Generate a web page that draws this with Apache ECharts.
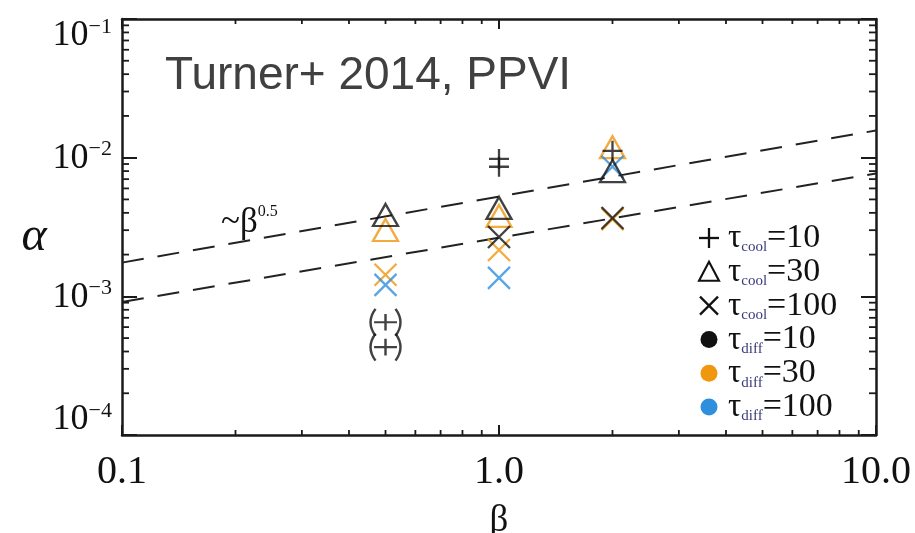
<!DOCTYPE html>
<html><head><meta charset="utf-8">
<script src="https://cdn.jsdelivr.net/npm/echarts@6/dist/echarts.min.js"></script>
<style>html,body{margin:0;padding:0;background:#fff}#c{width:915px;height:533px}</style>
</head><body><div id="c"></div>
<script>
// ---- data ----
const xTickLabels = ['0.1', '1.0', '10.0'];
const yTickExponents = ['\u22124', '\u22123', '\u22122', '\u22121'];
const xMinorTicks = [0.2,0.3,0.4,0.5,0.6,0.7,0.8,0.9,2,3,4,5,6,7,8,9];
const yMinorTicks = [2e-4,3e-4,4e-4,5e-4,6e-4,7e-4,8e-4,9e-4,2e-3,3e-3,4e-3,5e-3,6e-3,7e-3,8e-3,9e-3,2e-2,3e-2,4e-2,5e-2,6e-2,7e-2,8e-2,9e-2];

// tau_cool=10 (+)
const plusBlack = [[1, 9.8e-3], [1, 8.6e-3], [2, 1.12e-2]];
const plusBlackParen = [[0.5, 6.5e-4], [0.5, 4.3e-4]];
// tau_cool=30 (triangle)
const triBlack = [[0.5, 3.86e-3], [1, 4.34e-3], [2, 8.0e-3]];
const triOrange = [[0.5, 3.01e-3], [1, 3.8e-3], [2, 1.19e-2]];
// tau_cool=100 (x)
const crossBlack = [[1, 2.68e-3], [2, 3.67e-3]];
const crossOrange = [[0.5, 1.43e-3], [1, 2.16e-3], [2, 3.6e-3]];
const crossBlue = [[0.5, 1.21e-3], [1, 1.36e-3], [2, 8.6e-3]];
// ~beta^0.5 guide lines
const fitUpper = [[0.1, 1.75e-3], [10, 1.57e-2]];
const fitLower = [[0.1, 9.1e-4], [10, 7.7e-3]];

const legendItems = [
  {shape: 'plus', color: 'black', sub: 'cool', val: '10'},
  {shape: 'triangle', color: 'black', sub: 'cool', val: '30'},
  {shape: 'cross', color: 'black', sub: 'cool', val: '100'},
  {shape: 'circle', color: 'black', sub: 'diff', val: '10'},
  {shape: 'circle', color: 'orange', sub: 'diff', val: '30'},
  {shape: 'circle', color: 'blue', sub: 'diff', val: '100'}
];

// ---- styles ----
const COL = {black: '#111111', orange: '#F0960F', blue: '#2F8FDD'};
const SERIF = '"Liberation Serif","DejaVu Serif",serif';
const SANS = '"Liberation Sans",Arial,sans-serif';
const SYM = {
  plus: 'path://M0,-10 L0,10 M-10,0 L10,0',
  plusParen: 'path://M-7,-13 Q-14,0 -7,13 M7,-13 Q14,0 7,13 M0,-8 L0,8 M-8,0 L8,0',
  triangle: 'path://M0,-10 L11,10 L-11,10 Z',
  cross: 'path://M-10,-10 L10,10 M-10,10 L10,-10'
};

function scatter(data, symbol, size, color) {
  return {
    type: 'scatter', data: data, symbol: symbol, symbolSize: size,
    itemStyle: {color: 'none', borderColor: color, borderWidth: 2.3},
    emphasis: {disabled: true}, silent: true, z: 5
  };
}

const chart = echarts.init(document.getElementById('c'), null, {renderer: 'canvas'});

const axisLine = {show: true, lineStyle: {color: '#1a1a1a', width: 2.5}};
function xAxisDef(pos, showLabel) {
  return {
    type: 'log', logBase: 10, min: 0.1, max: 10, position: pos,
    axisLine: axisLine,
    axisTick: {show: true, inside: true, length: 10, lineStyle: {color: '#1a1a1a', width: 2}},
    splitLine: {show: false}, minorTick: {show: false},
    axisLabel: {
      show: showLabel, margin: 17, color: '#111', fontFamily: SERIF, fontSize: 40,
      formatter: function (v) { const i = Math.round(Math.log10(v)) + 1; return xTickLabels[i]; }
    },
    name: showLabel ? '\u03b2' : '', nameLocation: 'middle', nameGap: 68,
    nameTextStyle: {fontFamily: SERIF, fontSize: 37, color: '#111'}
  };
}
function yAxisDef(pos, showLabel) {
  return {
    type: 'log', logBase: 10, min: 1e-4, max: 1e-1, position: pos,
    axisLine: axisLine,
    axisTick: {show: true, inside: true, length: 15, lineStyle: {color: '#1a1a1a', width: 2}},
    splitLine: {show: false}, minorTick: {show: false},
    axisLabel: {
      show: showLabel, margin: 10, color: '#111', fontFamily: SERIF,
      formatter: function (v) {
        const i = Math.round(Math.log10(v)) + 4;
        const core = '{b|10}{s|' + yTickExponents[i] + '}';
        if (i === yTickExponents.length - 1) return '{g| }\n' + core;
        if (i === 0) return core + '\n{g| }';
        return core;
      },
      rich: {
        b: {fontFamily: SERIF, fontSize: 36, color: '#111', verticalAlign: 'bottom', lineHeight: 38},
        s: {fontFamily: SERIF, fontSize: 22, color: '#111', verticalAlign: 'top', lineHeight: 22},
        g: {fontSize: 10, lineHeight: 32}
      }
    },
    name: showLabel ? '\n\u03b1' : '', nameLocation: 'middle', nameGap: 62, nameRotate: 0,
    nameTextStyle: {fontFamily: SERIF, fontSize: 48, fontStyle: 'italic', color: '#111', lineHeight: 20}
  };
}

function minorX(params, api) {
  const v = api.value(0);
  const b = api.coord([v, 1e-4]);
  const t = api.coord([v, 1e-1]);
  const st = {stroke: '#1a1a1a', lineWidth: 1.8};
  return {type: 'group', children: [
    {type: 'line', shape: {x1: b[0], y1: b[1], x2: b[0], y2: b[1] - 5}, style: st},
    {type: 'line', shape: {x1: t[0], y1: t[1], x2: t[0], y2: t[1] + 5}, style: st}
  ]};
}
function minorY(params, api) {
  const v = api.value(1);
  const l = api.coord([0.1, v]);
  const r = api.coord([10, v]);
  const st = {stroke: '#1a1a1a', lineWidth: 1.8};
  return {type: 'group', children: [
    {type: 'line', shape: {x1: l[0], y1: l[1], x2: l[0] + 7, y2: l[1]}, style: st},
    {type: 'line', shape: {x1: r[0], y1: r[1], x2: r[0] - 7, y2: r[1]}, style: st}
  ]};
}

// legend graphics
const legendGraphics = [];
const L0 = 238, LSTEP = 33.8, LX = 709;
function gline(x1, y1, x2, y2, c) {
  return {type: 'line', shape: {x1: x1, y1: y1, x2: x2, y2: y2}, style: {stroke: c, lineWidth: 2.3}};
}
legendItems.forEach(function (it, i) {
  const cy = L0 + i * LSTEP;
  const c = COL[it.color];
  if (it.shape === 'plus') {
    legendGraphics.push(gline(LX, cy - 10, LX, cy + 10, c));
    legendGraphics.push(gline(LX - 10, cy, LX + 10, cy, c));
  } else if (it.shape === 'triangle') {
    legendGraphics.push({type: 'polygon', shape: {points: [[LX, cy - 10], [LX + 10, cy + 9], [LX - 10, cy + 9]]}, style: {stroke: c, lineWidth: 2.1, fill: null}});
  } else if (it.shape === 'cross') {
    legendGraphics.push(gline(LX - 9, cy - 9, LX + 9, cy + 9, c));
    legendGraphics.push(gline(LX - 9, cy + 9, LX + 9, cy - 9, c));
  } else {
    legendGraphics.push({type: 'circle', shape: {cx: LX, cy: cy, r: 8.5}, style: {fill: c}});
  }
  legendGraphics.push({
    type: 'text', x: 728, y: cy - 20,
    style: {
      text: '{t|\u03c4}{s|' + it.sub + '}{v|=' + it.val + '}',
      rich: {
        t: {fontFamily: SERIF, fontSize: 33, fill: '#111', verticalAlign: 'bottom', lineHeight: 37},
        s: {fontFamily: SERIF, fontSize: 15, fill: '#3a3a7a', verticalAlign: 'bottom', lineHeight: 13},
        v: {fontFamily: SERIF, fontSize: 34, fill: '#111', verticalAlign: 'bottom', lineHeight: 37}
      }
    }
  });
});

const option = {
  animation: false,
  backgroundColor: '#ffffff',
  grid: {left: 122, right: 39, top: 19, bottom: 98, containLabel: false, outerBoundsMode: 'none'},
  xAxis: [xAxisDef('bottom', true), xAxisDef('top', false)],
  yAxis: [yAxisDef('left', true), yAxisDef('right', false)],
  series: [
    {type: 'custom', renderItem: minorX, data: xMinorTicks.map(function (v) { return [v, 1e-4]; }), silent: true, clip: false, z: 3},
    {type: 'custom', renderItem: minorY, data: yMinorTicks.map(function (v) { return [0.1, v]; }), silent: true, clip: false, z: 3},
    {type: 'line', data: fitUpper, symbol: 'none', silent: true, lineStyle: {color: '#222', width: 2, type: [22, 14]}, z: 2},
    {type: 'line', data: fitLower, symbol: 'none', silent: true, lineStyle: {color: '#222', width: 2, type: [22, 14]}, z: 2},
    scatter(triOrange, SYM.triangle, [25, 22], COL.orange),
    scatter(crossOrange, SYM.cross, [22, 22], COL.orange),
    scatter(crossBlue, SYM.cross, [22, 22], COL.blue),
    scatter(triBlack, SYM.triangle, [25, 22], COL.black),
    scatter(crossBlack, SYM.cross, [22, 22], COL.black),
    scatter(plusBlack, SYM.plus, [20, 20], COL.black),
    scatter(plusBlackParen, SYM.plusParen, [30, 27], COL.black)
  ],
  graphic: [
    {type: 'text', x: 165, y: 53, style: {text: 'Turner+ 2014, PPVI', font: '46px ' + SANS, fill: '#404040'}},
    {type: 'text', x: 221, y: 204, style: {
      text: '{a|~\u03b2}{b|0.5}',
      rich: {
        a: {fontFamily: SERIF, fontSize: 35, fill: '#111', verticalAlign: 'bottom', lineHeight: 36},
        b: {fontFamily: SERIF, fontSize: 16, fill: '#111', verticalAlign: 'top', lineHeight: 16}
      }
    }}
  ].concat(legendGraphics)
};
chart.setOption(option);
</script></body></html>
